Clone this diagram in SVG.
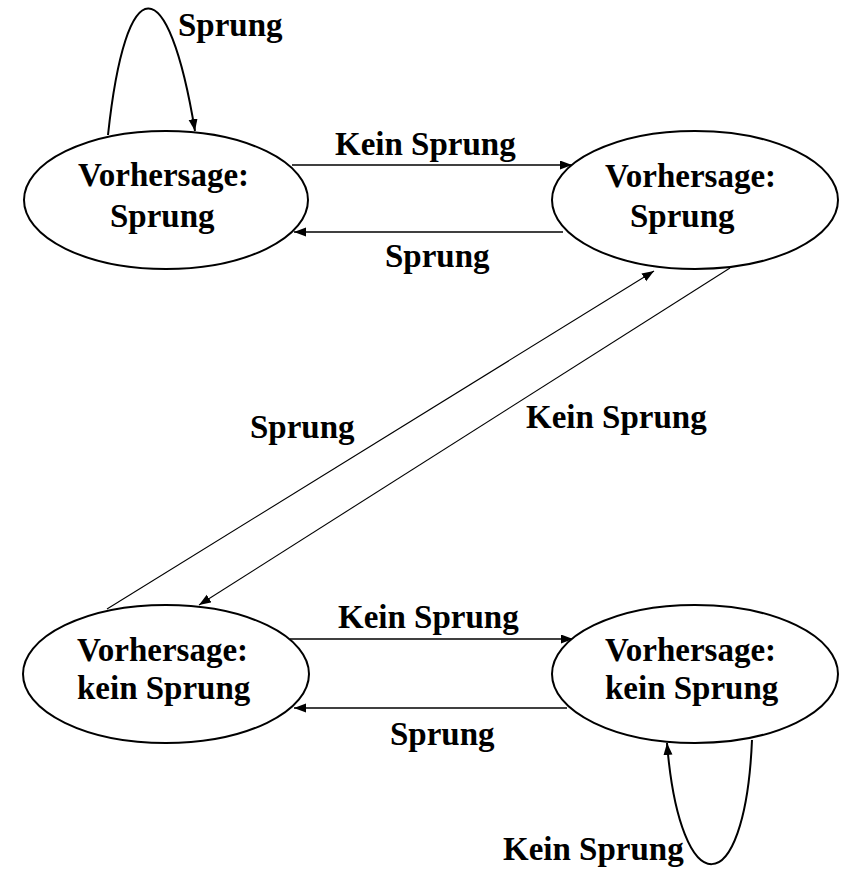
<svg xmlns="http://www.w3.org/2000/svg" width="841" height="869" viewBox="0 0 841 869">
  <style>
    .state { fill: #ffffff; stroke: #000000; stroke-width: 2; }
    .txt { font-family: "Liberation Serif", "Times New Roman", serif; font-weight: bold; font-size: 33px; fill: #000000; }
    .edge { fill: none; stroke: #000000; stroke-width: 1.6; marker-end: url(#arrow); }
    .diag { stroke-width: 1.1; }
    .loop { stroke-width: 2; }
  </style>
  <defs>
    <marker id="arrow" markerUnits="userSpaceOnUse" markerWidth="13" markerHeight="10" refX="12" refY="4.5" orient="auto">
      <path d="M0,0 L12,4.5 L0,9 z" fill="#000000"/>
    </marker>
  </defs>
  <rect x="0" y="0" width="841" height="869" fill="#ffffff"/>

  <!-- connectors -->
  <g id="connectors">
    <path class="edge loop" d="M108,135 C126,-33 168,-33 195,131"/>
    <path class="edge" d="M292,165 L572,165"/>
    <path class="edge" d="M563,232 L294,232"/>
    <path class="edge diag" d="M107,609 L654,271"/>
    <path class="edge diag" d="M730,268 L199,605"/>
    <path class="edge" d="M290,639 L573,639"/>
    <path class="edge" d="M567,708 L294,708"/>
    <path class="edge loop" d="M752,740 C745,905 680,905 667,743"/>
  </g>

  <!-- states -->
  <g id="state-strong-taken">
    <ellipse class="state" cx="166" cy="200" rx="142" ry="69"/>
    <text class="txt" x="78" y="186">Vorhersage:</text>
    <text class="txt" x="110" y="227">Sprung</text>
  </g>
  <g id="state-weak-taken">
    <ellipse class="state" cx="695" cy="200" rx="143" ry="69"/>
    <text class="txt" x="605" y="187">Vorhersage:</text>
    <text class="txt" x="630" y="227">Sprung</text>
  </g>
  <g id="state-weak-not-taken">
    <ellipse class="state" cx="166" cy="674" rx="143" ry="69"/>
    <text class="txt" x="77" y="661">Vorhersage:</text>
    <text class="txt" x="77" y="699">kein Sprung</text>
  </g>
  <g id="state-strong-not-taken">
    <ellipse class="state" cx="695" cy="674" rx="143" ry="69"/>
    <text class="txt" x="605" y="661">Vorhersage:</text>
    <text class="txt" x="605" y="699">kein Sprung</text>
  </g>

  <!-- transition labels -->
  <g id="labels">
    <text class="txt" x="178" y="36">Sprung</text>
    <text class="txt" x="335" y="155">Kein Sprung</text>
    <text class="txt" x="385" y="267">Sprung</text>
    <text class="txt" x="250" y="438">Sprung</text>
    <text class="txt" x="526" y="428">Kein Sprung</text>
    <text class="txt" x="338" y="628">Kein Sprung</text>
    <text class="txt" x="390" y="745">Sprung</text>
    <text class="txt" x="503" y="860">Kein Sprung</text>
  </g>
</svg>
